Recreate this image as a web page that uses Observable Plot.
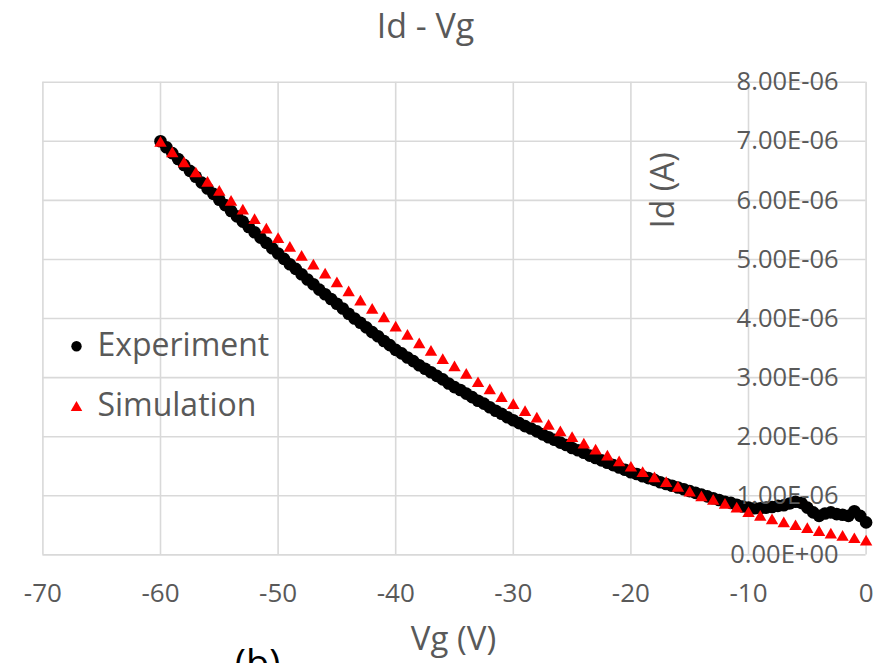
<!DOCTYPE html>
<html>
<head>
<meta charset="utf-8">
<script src="https://cdn.jsdelivr.net/npm/d3@7"></script>
<script src="https://cdn.jsdelivr.net/npm/@observablehq/plot@0.6"></script>
<style>
  html, body { margin: 0; padding: 0; overflow: hidden; background: #fff; }
  #chart svg { display: block; }
</style>
</head>
<body>
<div id="chart"></div>
<script>
// ---- data (Id in µA = 1E-06 A) ----
const title = "Id - Vg";
const xLabel = "Vg (V)";
const yLabel = "Id (A)";
const seriesNames = ["Experiment", "Simulation"];

const xTicks = [-70, -60, -50, -40, -30, -20, -10, 0];
const yTicks = [0, 1, 2, 3, 4, 5, 6, 7, 8];
const yTickLabels = ["0.00E+00", "1.00E-06", "2.00E-06", "3.00E-06", "4.00E-06",
                     "5.00E-06", "6.00E-06", "7.00E-06", "8.00E-06"];

const expVg = [
  -60, -59.5, -59, -58.5, -58, -57.5, -57, -56.5, -56, -55.5,
  -55, -54.5, -54, -53.5, -53, -52.5, -52, -51.5, -51, -50.5,
  -50, -49.5, -49, -48.5, -48, -47.5, -47, -46.5, -46, -45.5,
  -45, -44.5, -44, -43.5, -43, -42.5, -42, -41.5, -41, -40.5,
  -40, -39.5, -39, -38.5, -38, -37.5, -37, -36.5, -36, -35.5,
  -35, -34.5, -34, -33.5, -33, -32.5, -32, -31.5, -31, -30.5,
  -30, -29.5, -29, -28.5, -28, -27.5, -27, -26.5, -26, -25.5,
  -25, -24.5, -24, -23.5, -23, -22.5, -22, -21.5, -21, -20.5,
  -20, -19.5, -19, -18.5, -18, -17.5, -17, -16.5, -16, -15.5,
  -15, -14.5, -14, -13.5, -13, -12.5, -12, -11.5, -11, -10.5,
  -10, -9.5, -9, -8.5, -8, -7.5, -7, -6.5, -6, -5.5,
  -5, -4.5, -4, -3.5, -3, -2.5, -2, -1.5, -1, -0.5, 0
];
const expId = [
  7.00, 6.90, 6.80, 6.70, 6.60, 6.50, 6.40, 6.30, 6.20, 6.11,
  6.01, 5.92, 5.82, 5.73, 5.64, 5.55, 5.46, 5.37, 5.28, 5.19,
  5.10, 5.01, 4.92, 4.84, 4.75, 4.66, 4.58, 4.49, 4.41, 4.33,
  4.25, 4.17, 4.08, 4.00, 3.93, 3.85, 3.77, 3.70, 3.62, 3.55,
  3.47, 3.41, 3.34, 3.28, 3.21, 3.15, 3.09, 3.03, 2.97, 2.90,
  2.84, 2.79, 2.73, 2.67, 2.61, 2.56, 2.50, 2.44, 2.39, 2.33,
  2.28, 2.23, 2.18, 2.14, 2.09, 2.04, 1.99, 1.95, 1.90, 1.86,
  1.81, 1.77, 1.73, 1.68, 1.64, 1.60, 1.56, 1.52, 1.48, 1.44,
  1.40, 1.37, 1.33, 1.30, 1.27, 1.23, 1.20, 1.17, 1.14, 1.11,
  1.08, 1.05, 1.02, 0.99, 0.96, 0.93, 0.90, 0.88, 0.85, 0.82,
  0.80, 0.79, 0.79, 0.80, 0.81, 0.83, 0.84, 0.87, 0.90, 0.88,
  0.80, 0.72, 0.66, 0.70, 0.72, 0.69, 0.68, 0.66, 0.74, 0.66, 0.55
];

const simVg = [
  -60, -59, -58, -57, -56, -55, -54, -53, -52, -51,
  -50, -49, -48, -47, -46, -45, -44, -43, -42, -41,
  -40, -39, -38, -37, -36, -35, -34, -33, -32, -31,
  -30, -29, -28, -27, -26, -25, -24, -23, -22, -21,
  -20, -19, -18, -17, -16, -15, -14, -13, -12, -11,
  -10, -9, -8, -7, -6, -5, -4, -3, -2, -1, 0
];
const simId = [
  6.97, 6.79, 6.62, 6.45, 6.29, 6.14, 5.97, 5.82, 5.66, 5.50,
  5.34, 5.19, 5.04, 4.89, 4.74, 4.59, 4.44, 4.28, 4.14, 4.00,
  3.84, 3.70, 3.56, 3.43, 3.29, 3.17, 3.04, 2.90, 2.78, 2.65,
  2.53, 2.41, 2.30, 2.18, 2.07, 1.97, 1.86, 1.76, 1.66, 1.56,
  1.47, 1.38, 1.29, 1.21, 1.13, 1.05, 0.97, 0.91, 0.84, 0.78,
  0.70, 0.64, 0.58, 0.53, 0.48, 0.43, 0.38, 0.34, 0.30, 0.26, 0.22
];

// ---- build tables ----
const expData = expVg.map((v, i) => ({vg: v, id: expId[i]}));
const simData = simVg.map((v, i) => ({vg: v, id: simId[i]}));

const gray = "#595959";
const gridColor = "#d9d9d9";
const font = "'Open Sans', 'Noto Sans', sans-serif";

const chart = Plot.plot({
  width: 884,
  height: 663,
  marginLeft: 42.4,
  marginRight: 18.4,
  marginTop: 81.7,
  marginBottom: 108.6,
  style: {fontFamily: font, background: "#fff", overflow: "visible"},
  x: {domain: [-70, 0], axis: null},
  y: {domain: [0, 8], axis: null},
  marks: [
    Plot.ruleX(xTicks, {x: d => d, stroke: gridColor, strokeWidth: 1.6}),
    Plot.ruleY(yTicks, {y: d => d, stroke: gridColor, strokeWidth: 1.6}),
    Plot.dot(expData, {x: "vg", y: "id", r: 6.3, fill: "#000000", stroke: "none", symbol: "circle"}),
    Plot.dot(simData, {x: "vg", y: "id", r: 4.6, fill: "#ff0000", stroke: "none", symbol: "triangle"}),
    // y tick labels (inside, left of the right edge)
    Plot.text(yTicks, {
      y: d => d, text: (d, i) => yTickLabels[i], frameAnchor: "right",
      textAnchor: "end", lineAnchor: "middle", dx: -27.5, fontSize: 25.5, fill: gray
    }),
    // x tick labels
    Plot.text(xTicks, {
      x: d => d, text: d => String(d), frameAnchor: "bottom",
      lineAnchor: "middle", dy: 39, fontSize: 26, fill: gray
    }),
    // title
    Plot.text([title], {text: d => d, frameAnchor: "top", lineAnchor: "middle", dx: -29, dy: -55, fontSize: 34, fill: gray}),
    // x axis title
    Plot.text([xLabel], {text: d => d, frameAnchor: "bottom", lineAnchor: "middle", dx: -1, dy: 85, fontSize: 33, fill: gray}),
    // y axis title (rotated)
    Plot.text([yLabel], {text: d => d, frameAnchor: "top-right", rotate: -90, lineAnchor: "middle", textAnchor: "middle", dx: -202, dy: 108, fontSize: 32, fill: gray}),
    // legend
    Plot.dot([seriesNames[0]], {frameAnchor: "top-left", dx: 33.6, dy: 264, r: 5.2, fill: "#000000", symbol: "circle"}),
    Plot.dot([seriesNames[1]], {frameAnchor: "top-left", dx: 33.6, dy: 325.5, r: 4.3, fill: "#ff0000", symbol: "triangle"}),
    Plot.text([seriesNames[0]], {text: d => d, frameAnchor: "top-left", textAnchor: "start", lineAnchor: "middle", dx: 54.5, dy: 264, fontSize: 32, fill: gray}),
    Plot.text([seriesNames[1]], {text: d => d, frameAnchor: "top-left", textAnchor: "start", lineAnchor: "middle", dx: 54.5, dy: 323.5, fontSize: 32, fill: gray}),
    // panel letter, cut off at the bottom edge as in the reference
    Plot.text(["(b)"], {text: d => d, frameAnchor: "bottom", lineAnchor: "top", dx: -197, dy: 95, fontSize: 38, fill: "#000000"})
  ]
});

document.getElementById("chart").appendChild(chart);
</script>
</body>
</html>
